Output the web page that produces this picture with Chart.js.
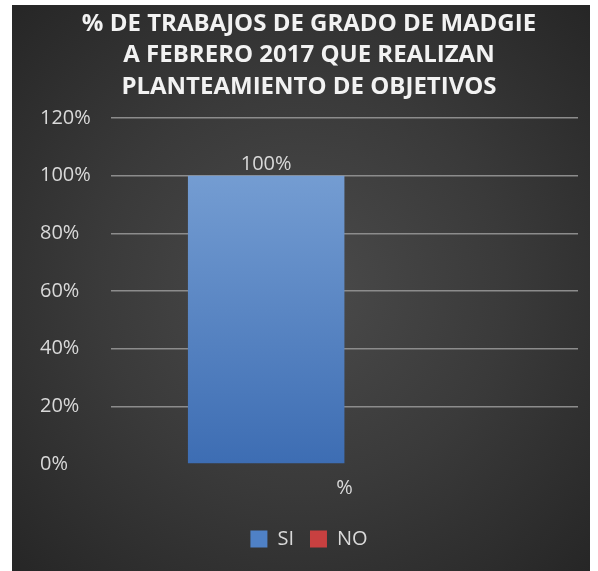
<!DOCTYPE html>
<html>
<head>
<meta charset="utf-8">
<script src="https://cdn.jsdelivr.net/npm/chart.js@4.4.1/dist/chart.umd.min.js"></script>
<style>
  html, body { margin: 0; padding: 0; background: #ffffff; }
  #wrap {
    position: absolute; left: 12px; top: 5px; width: 578px; height: 566px;
    background: radial-gradient(ellipse at 50% 50%, #4b4b4b 0%, #3a3a3a 50%, #262626 100%);
  }
</style>
</head>
<body>
<div id="wrap"><canvas id="grafico"></canvas></div>
<script>
// categoria y series
var categorias = ['%'];
var serieSI = [100];
var serieNO = [0];
var etiquetasY = ['0%', '20%', '40%', '60%', '80%', '100%', '120%'];

function degradado(c, top, bottom) {
  var area = c.chart.chartArea;
  if (!area) return bottom;
  var g = c.chart.ctx.createLinearGradient(0, area.top, 0, area.bottom);
  g.addColorStop(0, top);
  g.addColorStop(1, bottom);
  return g;
}

// etiqueta de valor encima de la barra
var etiquetaValor = {
  id: 'etiquetaValor',
  afterDatasetsDraw: function(chart) {
    var c = chart.ctx;
    var meta = chart.getDatasetMeta(0);
    meta.data.forEach(function(bar, i) {
      c.save();
      c.fillStyle = '#d9d9d9';
      c.font = '20px "Open Sans"';
      c.textAlign = 'center';
      c.textBaseline = 'bottom';
      c.fillText(serieSI[i] + '%', bar.x, bar.y - 1);
      c.restore();
    });
  }
};

function dibujar() {
  var ctx = document.getElementById('grafico').getContext('2d');
  new Chart(ctx, {
    type: 'bar',
    data: {
      labels: categorias,
      datasets: [{
        label: 'SI',
        data: serieSI,
        backgroundColor: function(c) { return degradado(c, '#7fa6d8', '#3d6db3'); },
        barPercentage: 1.0,
        categoryPercentage: 0.67
      }, {
        label: 'NO',
        data: serieNO,
        backgroundColor: function(c) { return degradado(c, '#d05656', '#b03030'); },
        barPercentage: 1.0,
        categoryPercentage: 0.67
      }]
    },
    options: {
      responsive: true,
      maintainAspectRatio: false,
      animation: false,
      layout: { padding: { left: 28, right: 12, top: 0, bottom: 12 } },
      plugins: {
        title: {
          display: true,
          text: ['% DE TRABAJOS DE GRADO DE MADGIE', 'A FEBRERO 2017 QUE REALIZAN', 'PLANTEAMIENTO DE OBJETIVOS'],
          color: '#f2f2f2',
          font: { family: '"Open Sans"', size: 24, weight: 'bold', lineHeight: 1.32 },
          padding: { top: 3, bottom: 15 }
        },
        legend: {
          position: 'bottom',
          labels: {
            color: '#d9d9d9',
            font: { family: '"Open Sans"', size: 20 },
            boxWidth: 17,
            boxHeight: 17,
            padding: 16,
            generateLabels: function(chart) {
              var cols = ['#4f81c6', '#c84040'];
              return chart.data.datasets.map(function(d, i) {
                return { text: d.label, fillStyle: cols[i], strokeStyle: cols[i], lineWidth: 0, fontColor: '#d9d9d9', datasetIndex: i };
              });
            }
          }
        },
        tooltip: { enabled: false }
      },
      scales: {
        x: {
          grid: { display: false },
          border: { display: false },
          ticks: { color: '#d9d9d9', font: { family: '"Open Sans"', size: 20 }, padding: 4 },
          afterFit: function(scale) { scale.height += 9; }
        },
        y: {
          min: 0,
          max: 120,
          ticks: {
            stepSize: 20,
            color: '#d9d9d9',
            font: { family: '"Open Sans"', size: 20 },
            crossAlign: 'far',
            padding: 10,
            callback: function(v, i) { return etiquetasY[i]; }
          },
          grid: {
            color: function(c) { return c.tick.value === 0 ? 'rgba(0,0,0,0)' : '#8c8c8c'; },
            lineWidth: 1.5,
            drawTicks: false
          },
          border: { display: false }
        }
      }
    },
    plugins: [etiquetaValor]
  });
}

if (document.fonts && document.fonts.load) {
  Promise.all([
    document.fonts.load('bold 24px "Open Sans"'),
    document.fonts.load('20px "Open Sans"')
  ]).then(dibujar, dibujar);
} else {
  dibujar();
}
</script>
</body>
</html>
